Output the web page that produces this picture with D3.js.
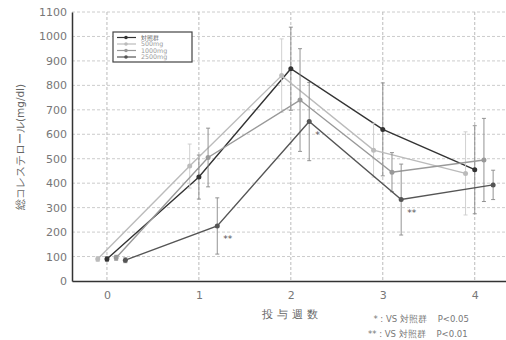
<!DOCTYPE html>
<html><head><meta charset="utf-8">
<script src="https://cdn.jsdelivr.net/npm/d3@7/dist/d3.min.js"></script>
<style>body{margin:0;background:#fff}svg{display:block}text{font-family:"DejaVu Sans",sans-serif}</style>
</head><body><svg id="c" width="506" height="340"></svg>
<script>
const weeks = [0, 1, 2, 3, 4];
const seriesNames = ["対照群", "500mg", "1000mg", "2500mg"];
const control = [90, 425, 868, 620, 455];
const g500 = [90, 470, 840, 535, 440];
const g1000 = [95, 505, 740, 445, 495];
const g2500 = [85, 225, 652, 333, 393];
const controlErr = [10, 90, 170, 190, 180];
const g500Err = [10, 90, 150, 110, 170];
const g1000Err = [10, 120, 210, 80, 170];
const g2500Err = [10, 115, 160, 145, 60];
const yTicks = [0,100,200,300,400,500,600,700,800,900,1000,1100];
const sigMarks = [{s:3, w:1, t:"**"}, {s:3, w:2, t:"*"}, {s:3, w:3, t:"**"}];

const svg = d3.select("#c");
const x = d3.scaleLinear().domain([-0.38, 4.34]).range([72, 506]);
const y = d3.scaleLinear().domain([0, 1100]).range([281, 12]);
const offsets = [0, -0.1, 0.1, 0.2];
const colors = ["#333", "#bbb", "#999", "#555"];
const vals = [control, g500, g1000, g2500];
const errs = [controlErr, g500Err, g1000Err, g2500Err];

// grid
svg.append("g").selectAll("line").data(yTicks.slice(1)).join("line")
  .attr("x1", 72).attr("x2", 506).attr("y1", d=>y(d)).attr("y2", d=>y(d))
  .attr("stroke", "#ccc").attr("stroke-dasharray", "3,2");
svg.append("g").selectAll("line").data(weeks).join("line")
  .attr("x1", d=>x(d)).attr("x2", d=>x(d)).attr("y1", y(1100)).attr("y2", y(0))
  .attr("stroke", "#bbb").attr("stroke-dasharray", "3,2");

// axes
const ya = svg.append("g").attr("transform", "translate(72,0)")
  .call(d3.axisLeft(y).tickValues(yTicks).tickSize(0).tickPadding(5).tickFormat(d3.format("d")));
ya.select(".domain").attr("stroke", "#333").attr("stroke-width", 1.5);
ya.selectAll("text").attr("fill", "#777").attr("font-size", 11);
const xa = svg.append("g").attr("transform", "translate(0,281)")
  .call(d3.axisBottom(x).tickValues(weeks).tickSize(0).tickPadding(10).tickFormat(d3.format("d")));
xa.select(".domain").attr("stroke", "#333").attr("stroke-width", 1.5);
xa.selectAll("text").attr("fill", "#777").attr("font-size", 11);

// series
vals.forEach((v, s) => {
  const pts = weeks.map((w, i) => ({w, v: v[i], e: errs[s][i]}));
  const px = d => x(d.w + offsets[s]);
  const g = svg.append("g");
  const ec = s === 1 ? "#ccc" : "#888";
  g.selectAll("line.eb").data(pts).join("line").attr("class","eb")
    .attr("x1", px).attr("x2", px).attr("y1", d=>y(d.v+d.e)).attr("y2", d=>y(d.v-d.e))
    .attr("stroke", ec).attr("stroke-width", 0.9);
  g.selectAll("line.c1").data(pts).join("line").attr("class","c1")
    .attr("x1", d=>px(d)-2).attr("x2", d=>px(d)+2).attr("y1", d=>y(d.v+d.e)).attr("y2", d=>y(d.v+d.e))
    .attr("stroke", ec).attr("stroke-width", 0.9);
  g.selectAll("line.c2").data(pts).join("line").attr("class","c2")
    .attr("x1", d=>px(d)-2).attr("x2", d=>px(d)+2).attr("y1", d=>y(d.v-d.e)).attr("y2", d=>y(d.v-d.e))
    .attr("stroke", ec).attr("stroke-width", 0.9);
  g.append("path").datum(pts)
    .attr("d", d3.line().x(px).y(d=>y(d.v)))
    .attr("fill", "none").attr("stroke", colors[s]).attr("stroke-width", 1.4);
  g.selectAll("circle").data(pts).join("circle")
    .attr("cx", px).attr("cy", d=>y(d.v)).attr("r", 2.5).attr("fill", colors[s]);
});

// significance marks
svg.append("g").selectAll("text").data(sigMarks).join("text")
  .attr("x", d=>x(d.w + offsets[d.s]) + 6).attr("y", d=>y(vals[d.s][d.w]) + 16)
  .attr("font-size", 9).attr("fill", "#555").text(d=>d.t);

// legend
const lg = svg.append("g");
lg.append("rect").attr("x", 113).attr("y", 32).attr("width", 79).attr("height", 30)
  .attr("fill", "#fff").attr("stroke", "#444").attr("stroke-width", 1.2);
seriesNames.forEach((n, i) => {
  const yy = 37.5 + i*6.5;
  lg.append("line").attr("x1", 117).attr("x2", 136).attr("y1", yy).attr("y2", yy)
    .attr("stroke", colors[i]).attr("stroke-width", 1.2);
  lg.append("circle").attr("cx", 126).attr("cy", yy).attr("r", 1.8).attr("fill", colors[i]);
  lg.append("text").attr("x", 141).attr("y", yy + 2.3).attr("font-size", 6.3)
    .attr("fill", i === 0 ? "#555" : "#999").text(n);
});

// y label
svg.append("text").attr("transform", "translate(24,147) rotate(-90)")
  .attr("text-anchor", "middle").attr("font-size", 10.5).attr("fill", "#666")
  .attr("font-family", "Noto Sans CJK JP").text("総コレステロール(mg/dl)");
// x label
svg.append("text").attr("x", 292).attr("y", 318).attr("text-anchor", "middle")
  .attr("font-size", 11).attr("fill", "#666").attr("font-family", "Noto Sans CJK JP")
  .attr("letter-spacing", 4).text("投与週数");
// footnotes
svg.append("text").attr("x", 368).attr("y", 322).attr("font-size", 8.5).attr("fill", "#777")
  .attr("font-family", "Noto Sans CJK JP").attr("xml:space","preserve").text("  * : VS 対照群    P<0.05");
svg.append("text").attr("x", 368).attr("y", 337).attr("font-size", 8.5).attr("fill", "#777")
  .attr("font-family", "Noto Sans CJK JP").attr("xml:space","preserve").text("** : VS 対照群    P<0.01");
</script></body></html>
